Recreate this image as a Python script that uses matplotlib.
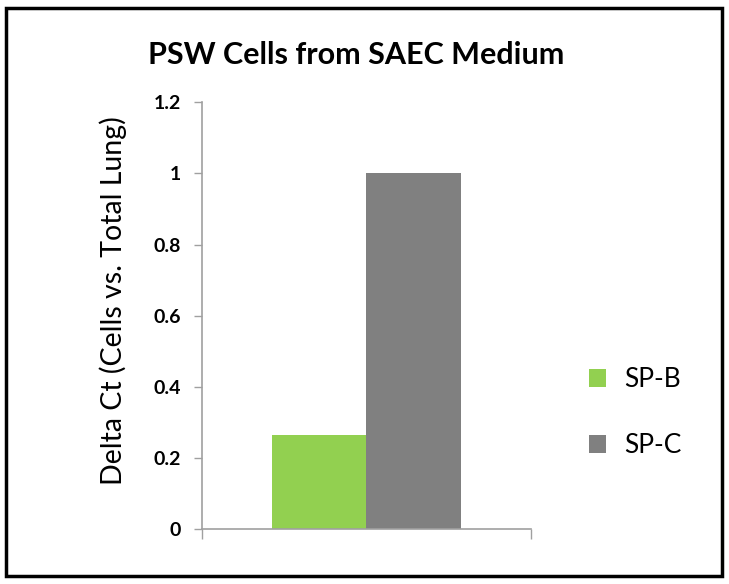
import matplotlib
matplotlib.use("Agg")
import matplotlib.pyplot as plt
from matplotlib.patches import Rectangle
import numpy as np

categories = [""]
series_names = ["SP-B", "SP-C"]
sp_b = [0.265]
sp_c = [1.0]
yticks = [0, 0.2, 0.4, 0.6, 0.8, 1, 1.2]
ytick_labels = ["0", "0.2", "0.4", "0.6", "0.8", "1", "1.2"]
colors = ["#92d050", "#808080"]

plt.rcParams['font.family'] = ['Lato', 'DejaVu Sans']

fig = plt.figure(figsize=(7.29, 5.84), dpi=100)
ax = fig.add_axes([0.277, 0.094, 0.451, 0.731])

x = np.arange(len(categories))
w = 0.287
ax.bar(x - w / 2, sp_b, width=w, color=colors[0], label=series_names[0])
ax.bar(x + w / 2, sp_c, width=w, color=colors[1], label=series_names[1])

ax.set_xlim(-0.5, 0.5)
ax.set_ylim(0, 1.2)
ax.set_yticks(yticks)
ax.set_yticklabels(ytick_labels, fontsize=14, fontweight='bold')
ax.set_xticks([-0.5, 0.5])
ax.set_xticklabels(["", ""])
ax.tick_params(axis='both', direction='out', length=6, color='#a0a0a0', width=1, pad=9)
ax.tick_params(axis='x', length=7)
for s in ['top', 'right']:
    ax.spines[s].set_visible(False)
for s in ['left', 'bottom']:
    ax.spines[s].set_color('#a0a0a0')
    ax.spines[s].set_linewidth(1.2)

ax.set_ylabel("Delta Ct (Cells vs. Total Lung)", fontsize=20.5)
ax.yaxis.set_label_coords(-0.228, 0.536)

fig.text(0.489, 0.905, "PSW Cells from SAEC Medium", ha='center', va='center',
         fontsize=22, fontweight='bold')

leg = fig.legend(loc='center left', bbox_to_anchor=(0.775, 0.293), frameon=False,
                 fontsize=19, handlelength=0.65, handleheight=0.65, labelspacing=1.55,
                 handletextpad=0.7)

border = Rectangle((0.008, 0.013), 0.983, 0.973, transform=fig.transFigure,
                   fill=False, edgecolor='black', linewidth=2.5, zorder=10)
fig.patches.append(border)

fig.savefig("out.png", dpi=100)
